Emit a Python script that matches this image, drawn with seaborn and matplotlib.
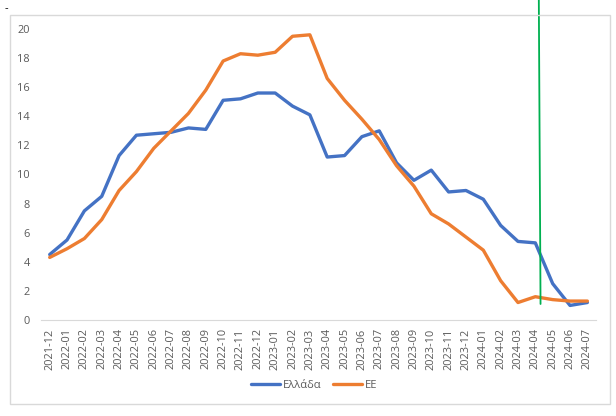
import pandas as pd
import matplotlib.pyplot as plt
import seaborn as sns
from matplotlib.patches import Rectangle

# monthly values
months = ['2021-12', '2022-01', '2022-02', '2022-03', '2022-04', '2022-05', '2022-06',
          '2022-07', '2022-08', '2022-09', '2022-10', '2022-11', '2022-12', '2023-01',
          '2023-02', '2023-03', '2023-04', '2023-05', '2023-06', '2023-07', '2023-08',
          '2023-09', '2023-10', '2023-11', '2023-12', '2024-01', '2024-02', '2024-03',
          '2024-04', '2024-05', '2024-06', '2024-07']
greece = [4.5, 5.5, 7.5, 8.5, 11.3, 12.7, 12.8, 12.9, 13.2, 13.1, 15.1, 15.2, 15.6, 15.6,
          14.7, 14.1, 11.2, 11.3, 12.6, 13.0, 10.8, 9.6, 10.3, 8.8, 8.9, 8.3, 6.5, 5.4,
          5.3, 2.5, 1.0, 1.2]
eu = [4.3, 4.9, 5.6, 6.9, 8.9, 10.2, 11.8, 13.0, 14.2, 15.8, 17.8, 18.3, 18.2, 18.4,
      19.5, 19.6, 16.6, 15.1, 13.8, 12.4, 10.6, 9.2, 7.3, 6.6, 5.7, 4.8, 2.7, 1.2,
      1.6, 1.4, 1.3, 1.3]
series_names = ['Ελλάδα', 'ΕΕ']

# hand-drawn green marker line (in month-index / value units)
marker_x = [28.3, 28.2]
marker_y = [1.1, 22.2]

df = pd.DataFrame({
    'idx': list(range(len(months))) * 2,
    'value': greece + eu,
    'series': [series_names[0]] * len(months) + [series_names[1]] * len(months),
})

sns.set_style('white')
plt.rcParams['font.family'] = ['Open Sans', 'DejaVu Sans']

fig = plt.figure(figsize=(6.16, 4.16), dpi=100)
ax = fig.add_axes([0.0666, 0.2308, 0.901, 0.6995])

sns.lineplot(data=df, x='idx', y='value', hue='series', sort=False,
             palette=['#4472C4', '#ED7D31'], linewidth=2.4, ax=ax)

ax.plot(marker_x, marker_y, color='#00B050', linewidth=1.3, clip_on=False, zorder=5)

ax.set_xlim(-0.5, len(months) - 0.5)
ax.set_ylim(0, 20)
ax.set_yticks(range(0, 21, 2))
ax.set_xticks(range(len(months)))
ax.set_xticklabels(months, rotation=90)
ax.tick_params(axis='both', length=0, labelsize=7.9, colors='#595959')
ax.tick_params(axis='y', pad=8)
ax.tick_params(axis='x', pad=6)
ax.set_xlabel('')
ax.set_ylabel('')
for s in ['top', 'right', 'left']:
    ax.spines[s].set_visible(False)
ax.spines['bottom'].set_color('#d9d9d9')

ax.legend(loc='center', bbox_to_anchor=(0.51, 0.073), bbox_transform=fig.transFigure,
          ncol=2, frameon=False, fontsize=8, handlelength=2.6, columnspacing=1.0,
          handletextpad=0.3, labelcolor='#595959')

fig.patches.append(Rectangle((10 / 616, 12 / 416), 600 / 616, 389 / 416,
                             transform=fig.transFigure, fill=False,
                             edgecolor='#d9d9d9', linewidth=1.0))
fig.text(5 / 616, 1 - 9 / 416, '-', fontsize=8, color='black', va='center')

fig.savefig('out.png', dpi=100)
